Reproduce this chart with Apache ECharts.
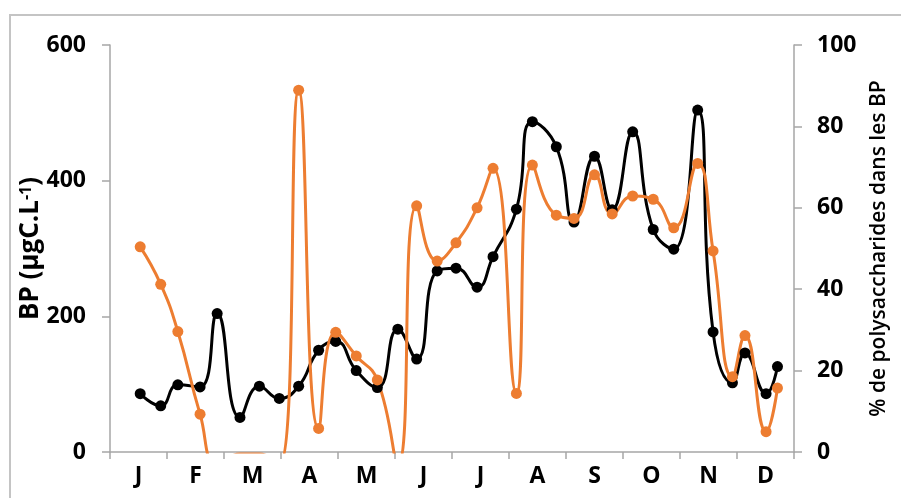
<!DOCTYPE html>
<html>
<head>
<meta charset="utf-8">
<script src="https://cdn.jsdelivr.net/npm/echarts@6/dist/echarts.min.js"></script>
<style>
html,body{margin:0;padding:0;background:#fff;}
#frame{position:absolute;left:9px;top:14px;width:900px;height:490px;border-left:2px solid #c4c4c4;border-top:2px solid #c4c4c4;}
#chart{position:absolute;left:0;top:0;width:901px;height:498px;}
</style>
</head>
<body>
<div id="frame"></div>
<div id="chart"></div>
<script>
// Month labels
var months = ['J','F','M','A','M','J','J','A','S','O','N','D'];
// Sampling positions (in months from 1 Jan)
var monthPos = [0.53, 0.89, 1.19, 1.58, 1.88, 2.28, 2.62, 2.97, 3.31, 3.66, 3.96,
                4.32, 4.69, 5.05, 5.38, 5.74, 6.07, 6.44, 6.72, 7.13, 7.41, 7.83,
                8.14, 8.50, 8.81, 9.17, 9.53, 9.89, 10.31, 10.58, 10.92, 11.14, 11.51, 11.71];
// BP (µgC.L-1), left axis
var bp = [86, 68, 99, 96, 204, 51, 97, 79, 97, 150, 163,
          120, 95, 181, 137, 267, 271, 243, 288, 358, 487, 450,
          339, 436, 357, 472, 328, 299, 504, 177, 102, 146, 86, 126];
// % de polysaccharides dans les BP, right axis
var poly = [50.4, 41.2, 29.6, 9.3, -3, -0.5, -0.5, -3, 88.9, 5.8, 29.4,
            23.6, 17.7, -3, 60.5, 46.9, 51.4, 60.0, 69.7, 14.4, 70.5, 58.2,
            57.4, 68.1, 58.5, 62.9, 62.1, 55.1, 70.9, 49.4, 18.5, 28.6, 5.0, 15.7];
var leftTicks = {min: 0, max: 600, interval: 200};
var rightTicks = {min: 0, max: 100, interval: 20};

function pairs(xs, ys){ return xs.map(function(x,i){ return [x, ys[i]]; }); }

var FONT = '"Open Sans", "Liberation Sans", sans-serif';
var axisGray = '#a6a6a6';
var chart = echarts.init(document.getElementById('chart'));
chart.setOption({
  animation: false,
  backgroundColor: 'transparent',
  grid: {left: 110, right: 107, top: 45, bottom: 46},
  xAxis: [{
    type: 'value', min: 0, max: 12, interval: 1,
    axisLine: {show: true, onZero: false, lineStyle: {color: axisGray, width: 1.5}},
    axisTick: {show: true, length: 7, lineStyle: {color: axisGray, width: 1.5}},
    axisLabel: {show: false},
    splitLine: {show: false}
  }, {
    type: 'category', data: months, position: 'bottom', boundaryGap: true,
    axisLine: {show: false}, axisTick: {show: false}, splitLine: {show: false},
    axisLabel: {color: '#000', fontFamily: FONT, fontWeight: 'bold', fontSize: 23, margin: 13}
  }],
  yAxis: [{
    type: 'value', position: 'left', min: leftTicks.min, max: leftTicks.max, interval: leftTicks.interval,
    axisLine: {show: true, lineStyle: {color: axisGray, width: 1.5}},
    axisTick: {show: true, length: 8, lineStyle: {color: axisGray, width: 1.5}},
    axisLabel: {color: '#000', fontFamily: FONT, fontWeight: 'bold', fontSize: 23, margin: 24},
    splitLine: {show: false},
    name: 'BP (µgC.L{sup|-1})', nameLocation: 'middle', nameGap: 66, nameMoveOverlap: false,
    nameTextStyle: {color: '#000', fontFamily: FONT, fontWeight: 'bold', fontSize: 26,
      rich: {sup: {fontFamily: FONT, fontWeight: 'bold', fontSize: 16, color: '#000', verticalAlign: 'top', padding: [0,0,10,0]}}}
  }, {
    type: 'value', position: 'right', min: rightTicks.min, max: rightTicks.max, interval: rightTicks.interval,
    axisLine: {show: true, lineStyle: {color: axisGray, width: 1.5}},
    axisTick: {show: true, length: 8, lineStyle: {color: axisGray, width: 1.5}},
    axisLabel: {color: '#000', fontFamily: FONT, fontWeight: 'bold', fontSize: 23, margin: 23},
    splitLine: {show: false},
    name: '% de polysaccharides dans les BP', nameLocation: 'middle', nameGap: 75, nameMoveOverlap: false,
    nameTextStyle: {color: '#000', fontFamily: FONT, fontWeight: 600, fontSize: 21}
  }],
  series: [{
    type: 'line', xAxisIndex: 0, yAxisIndex: 0, data: pairs(monthPos, bp),
    smooth: 0.5, symbol: 'circle', symbolSize: 11,
    lineStyle: {color: '#000', width: 3}, itemStyle: {color: '#000'}
  }, {
    type: 'line', xAxisIndex: 0, yAxisIndex: 1, data: pairs(monthPos, poly),
    smooth: 0.5, symbol: 'circle', symbolSize: 11,
    lineStyle: {color: '#ED7D31', width: 3}, itemStyle: {color: '#ED7D31'}
  }]
});
</script>
</body>
</html>
